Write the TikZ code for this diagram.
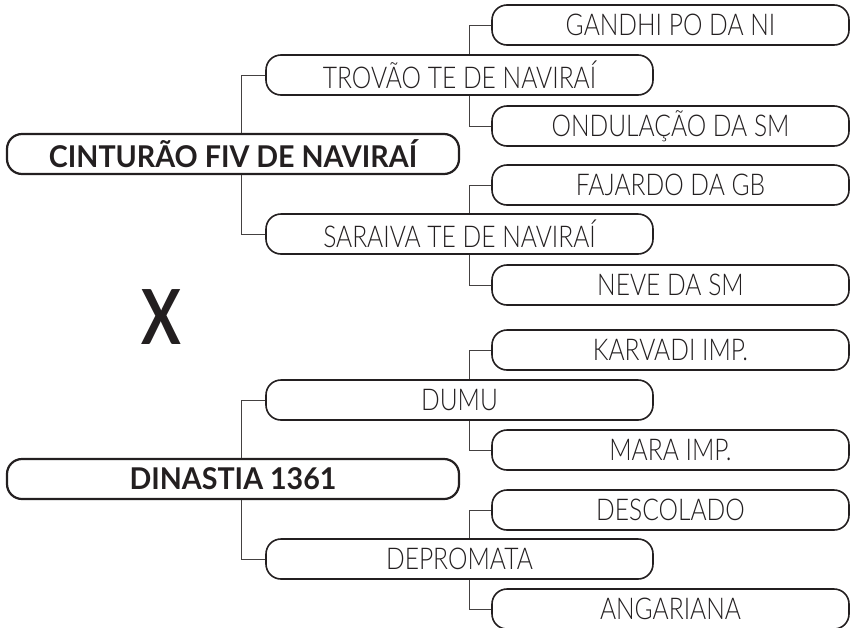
\documentclass[tikz,border=0pt]{standalone}
\usepackage{fontspec}
\setmainfont{Lato Light}[FakeStretch=0.82]
\newfontfamily\rootfont{Lato Bold}[FakeStretch=0.955]
\newfontfamily\versusfont{Lato Bold}[FakeStretch=0.78]
\usetikzlibrary{positioning,calc}
\definecolor{cInk}{RGB}{35,31,32}

\begin{document}
\begin{tikzpicture}[x=1pt, y=-1pt, font=\fontsize{30}{32}\selectfont, text=cInk,
  root/.style={draw=cInk, line width=2.2pt, rounded corners=15pt, minimum width=452pt, minimum height=40pt, font=\rootfont\fontsize{30}{32}\selectfont},
  mid/.style={draw=cInk, line width=1.6pt, rounded corners=15pt, minimum width=387pt, minimum height=40pt},
  leaf/.style={mid, minimum width=357pt},
  link/.style={draw=cInk!85, line width=1pt}]
  \useasboundingbox (0,0) rectangle (851,627);
  % first team
  \node[root] (r1) at (233,154) {CINTURÃO FIV DE NAVIRAÍ};
  \node[mid] (m1) at (459.5,75) {TROVÃO TE DE NAVIRAÍ};
  \node[mid] (m2) at (459.5,234) {SARAIVA TE DE NAVIRAÍ};
  \node[leaf] (l1) at (670.5,25) {GANDHI PO DA NI};
  \node[leaf] (l2) at (670.5,126) {ONDULAÇÃO DA SM};
  \node[leaf] (l3) at (670.5,185) {FAJARDO DA GB};
  \node[leaf] (l4) at (670.5,285) {NEVE DA SM};
  % versus
  \node[font=\versusfont\fontsize{76}{76}\selectfont] (vs) at (161,317) {X};
  % second team
  \node[root] (r2) at (233,479) {DINASTIA 1361};
  \node[mid] (m3) at (459.5,400) {DUMU};
  \node[mid] (m4) at (459.5,559) {DEPROMATA};
  \node[leaf] (l5) at (670.5,350) {KARVADI IMP.};
  \node[leaf] (l6) at (670.5,450) {MARA IMP.};
  \node[leaf] (l7) at (670.5,510) {DESCOLADO};
  \node[leaf] (l8) at (670.5,609) {ANGARIANA};
  \draw[link] ([xshift=8pt]r1.north) |- (m1.west);
  \draw[link] ([xshift=8pt]r1.south) |- (m2.west);
  \draw[link] ([xshift=9.5pt]m1.north) |- (l1.west);
  \draw[link] ([xshift=9.5pt]m1.south) |- (l2.west);
  \draw[link] ([xshift=9.5pt]m2.north) |- (l3.west);
  \draw[link] ([xshift=9.5pt]m2.south) |- (l4.west);
  \draw[link] ([xshift=8pt]r2.north) |- (m3.west);
  \draw[link] ([xshift=8pt]r2.south) |- (m4.west);
  \draw[link] ([xshift=9.5pt]m3.north) |- (l5.west);
  \draw[link] ([xshift=9.5pt]m3.south) |- (l6.west);
  \draw[link] ([xshift=9.5pt]m4.north) |- (l7.west);
  \draw[link] ([xshift=9.5pt]m4.south) |- (l8.west);
\end{tikzpicture}
\end{document}
